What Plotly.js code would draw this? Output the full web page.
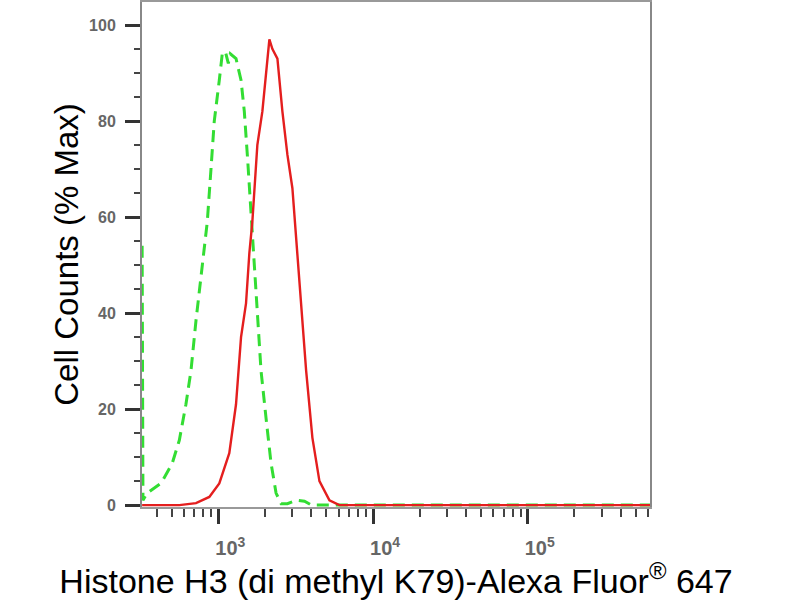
<!DOCTYPE html>
<html>
<head>
<meta charset="utf-8">
<script src="https://cdn.plot.ly/plotly-3.0.1.min.js"></script>
<style>html,body{margin:0;padding:0;background:#fff;}#chart{width:800px;height:600px;}</style>
</head>
<body>
<div id="chart"></div>
<script>
// Fluorescence intensity (x) and % Max counts (y)
const controlX = [322, 326, 347, 385, 428, 504, 560, 618, 666, 718, 773, 849, 897, 942, 1015, 1061, 1110, 1161, 1196, 1302, 1403, 1473, 1548, 1629, 1710, 1796, 1889, 2037, 2193, 2362, 2547, 2797, 3199, 3605, 4000, 620000];
const controlY = [54, 1, 2.5, 3.5, 4.6, 8.7, 13.5, 21, 28, 38.5, 48, 59, 70, 80, 88.5, 94, 94.5, 92, 94, 93, 88.5, 82, 72, 61, 49, 38.5, 28, 18, 8.7, 2.5, 0.3, 0.3, 1, 0.8, 0, 0];

const sampleX = [322, 560, 718, 875, 1015, 1178, 1302, 1403, 1511, 1588, 1660, 1788, 1927, 2037, 2139, 2238, 2411, 2596, 2797, 3013, 3184, 3430, 3696, 4058, 4505, 5228, 6062, 620000];
const sampleY = [0, 0, 0.4, 1.7, 4.5, 10.8, 21, 35, 42, 52.5, 59, 75, 82, 90.6, 97, 95, 93, 82, 73, 66, 56, 42, 28, 14, 5, 1, 0, 0];

const yTickVals = [0, 20, 40, 60, 80, 100];
const xTickVals = [1000, 10000, 100000];
const xTickText = ['10<sup>3</sup>', '10<sup>4</sup>', '10<sup>5</sup>'];

const traces = [
  {x: controlX, y: controlY, type: 'scatter', mode: 'lines', name: 'Control',
   line: {color: '#33dd33', width: 3, dash: '12px,7px'}, hoverinfo: 'skip'},
  {x: sampleX, y: sampleY, type: 'scatter', mode: 'lines', name: 'Sample',
   line: {color: '#e41e1e', width: 2.4}, hoverinfo: 'skip'}
];

const tickFont = {family: 'Liberation Sans Narrow, Arial, sans-serif', size: 16, color: '#666', weight: 'bold'};

const layout = {
  width: 800, height: 600,
  margin: {l: 142, r: 150, t: 2, b: 93, pad: 0},
  paper_bgcolor: '#fff', plot_bgcolor: '#fff',
  showlegend: false,
  xaxis: {
    type: 'log', range: [2.507, 5.79],
    tickvals: xTickVals, ticktext: xTickText,
    showline: true, linecolor: '#999', linewidth: 2, mirror: true,
    ticks: 'outside', ticklen: 15, tickwidth: 3, tickcolor: '#333',
    ticklabelshift: 12, ticklabelstandoff: 7,
    showgrid: false, zeroline: false,
    tickfont: {family: 'Liberation Sans Narrow, Arial, sans-serif', size: 20, color: '#666', weight: 'bold'},
    minor: {ticks: 'outside', ticklen: 8, tickwidth: 2, tickcolor: '#444', dtick: 'D1', showgrid: false},
    title: {text: 'Histone H3 (di methyl K79)-Alexa Fluor<sup>®</sup> 647',
            font: {family: 'Liberation Sans, Arial, sans-serif', size: 34, color: '#000'}, standoff: 1}
  },
  yaxis: {
    range: [-0.4, 104.8],
    tickvals: yTickVals,
    showline: true, linecolor: '#888', linewidth: 2, mirror: true,
    ticks: 'outside', ticklen: 15, tickwidth: 3, tickcolor: '#333',
    ticklabelstandoff: 6,
    showgrid: false, zeroline: false,
    tickfont: tickFont,
    minor: {ticks: 'outside', ticklen: 6, tickwidth: 2, tickcolor: '#444', dtick: 5, tick0: 0, showgrid: false},
    title: {text: 'Cell Counts (% Max)',
            font: {family: 'Liberation Sans, Arial, sans-serif', size: 33, color: '#000'}, standoff: 1}
  }
};

Plotly.newPlot('chart', traces, layout, {staticPlot: true, displayModeBar: false});
</script>
</body>
</html>
